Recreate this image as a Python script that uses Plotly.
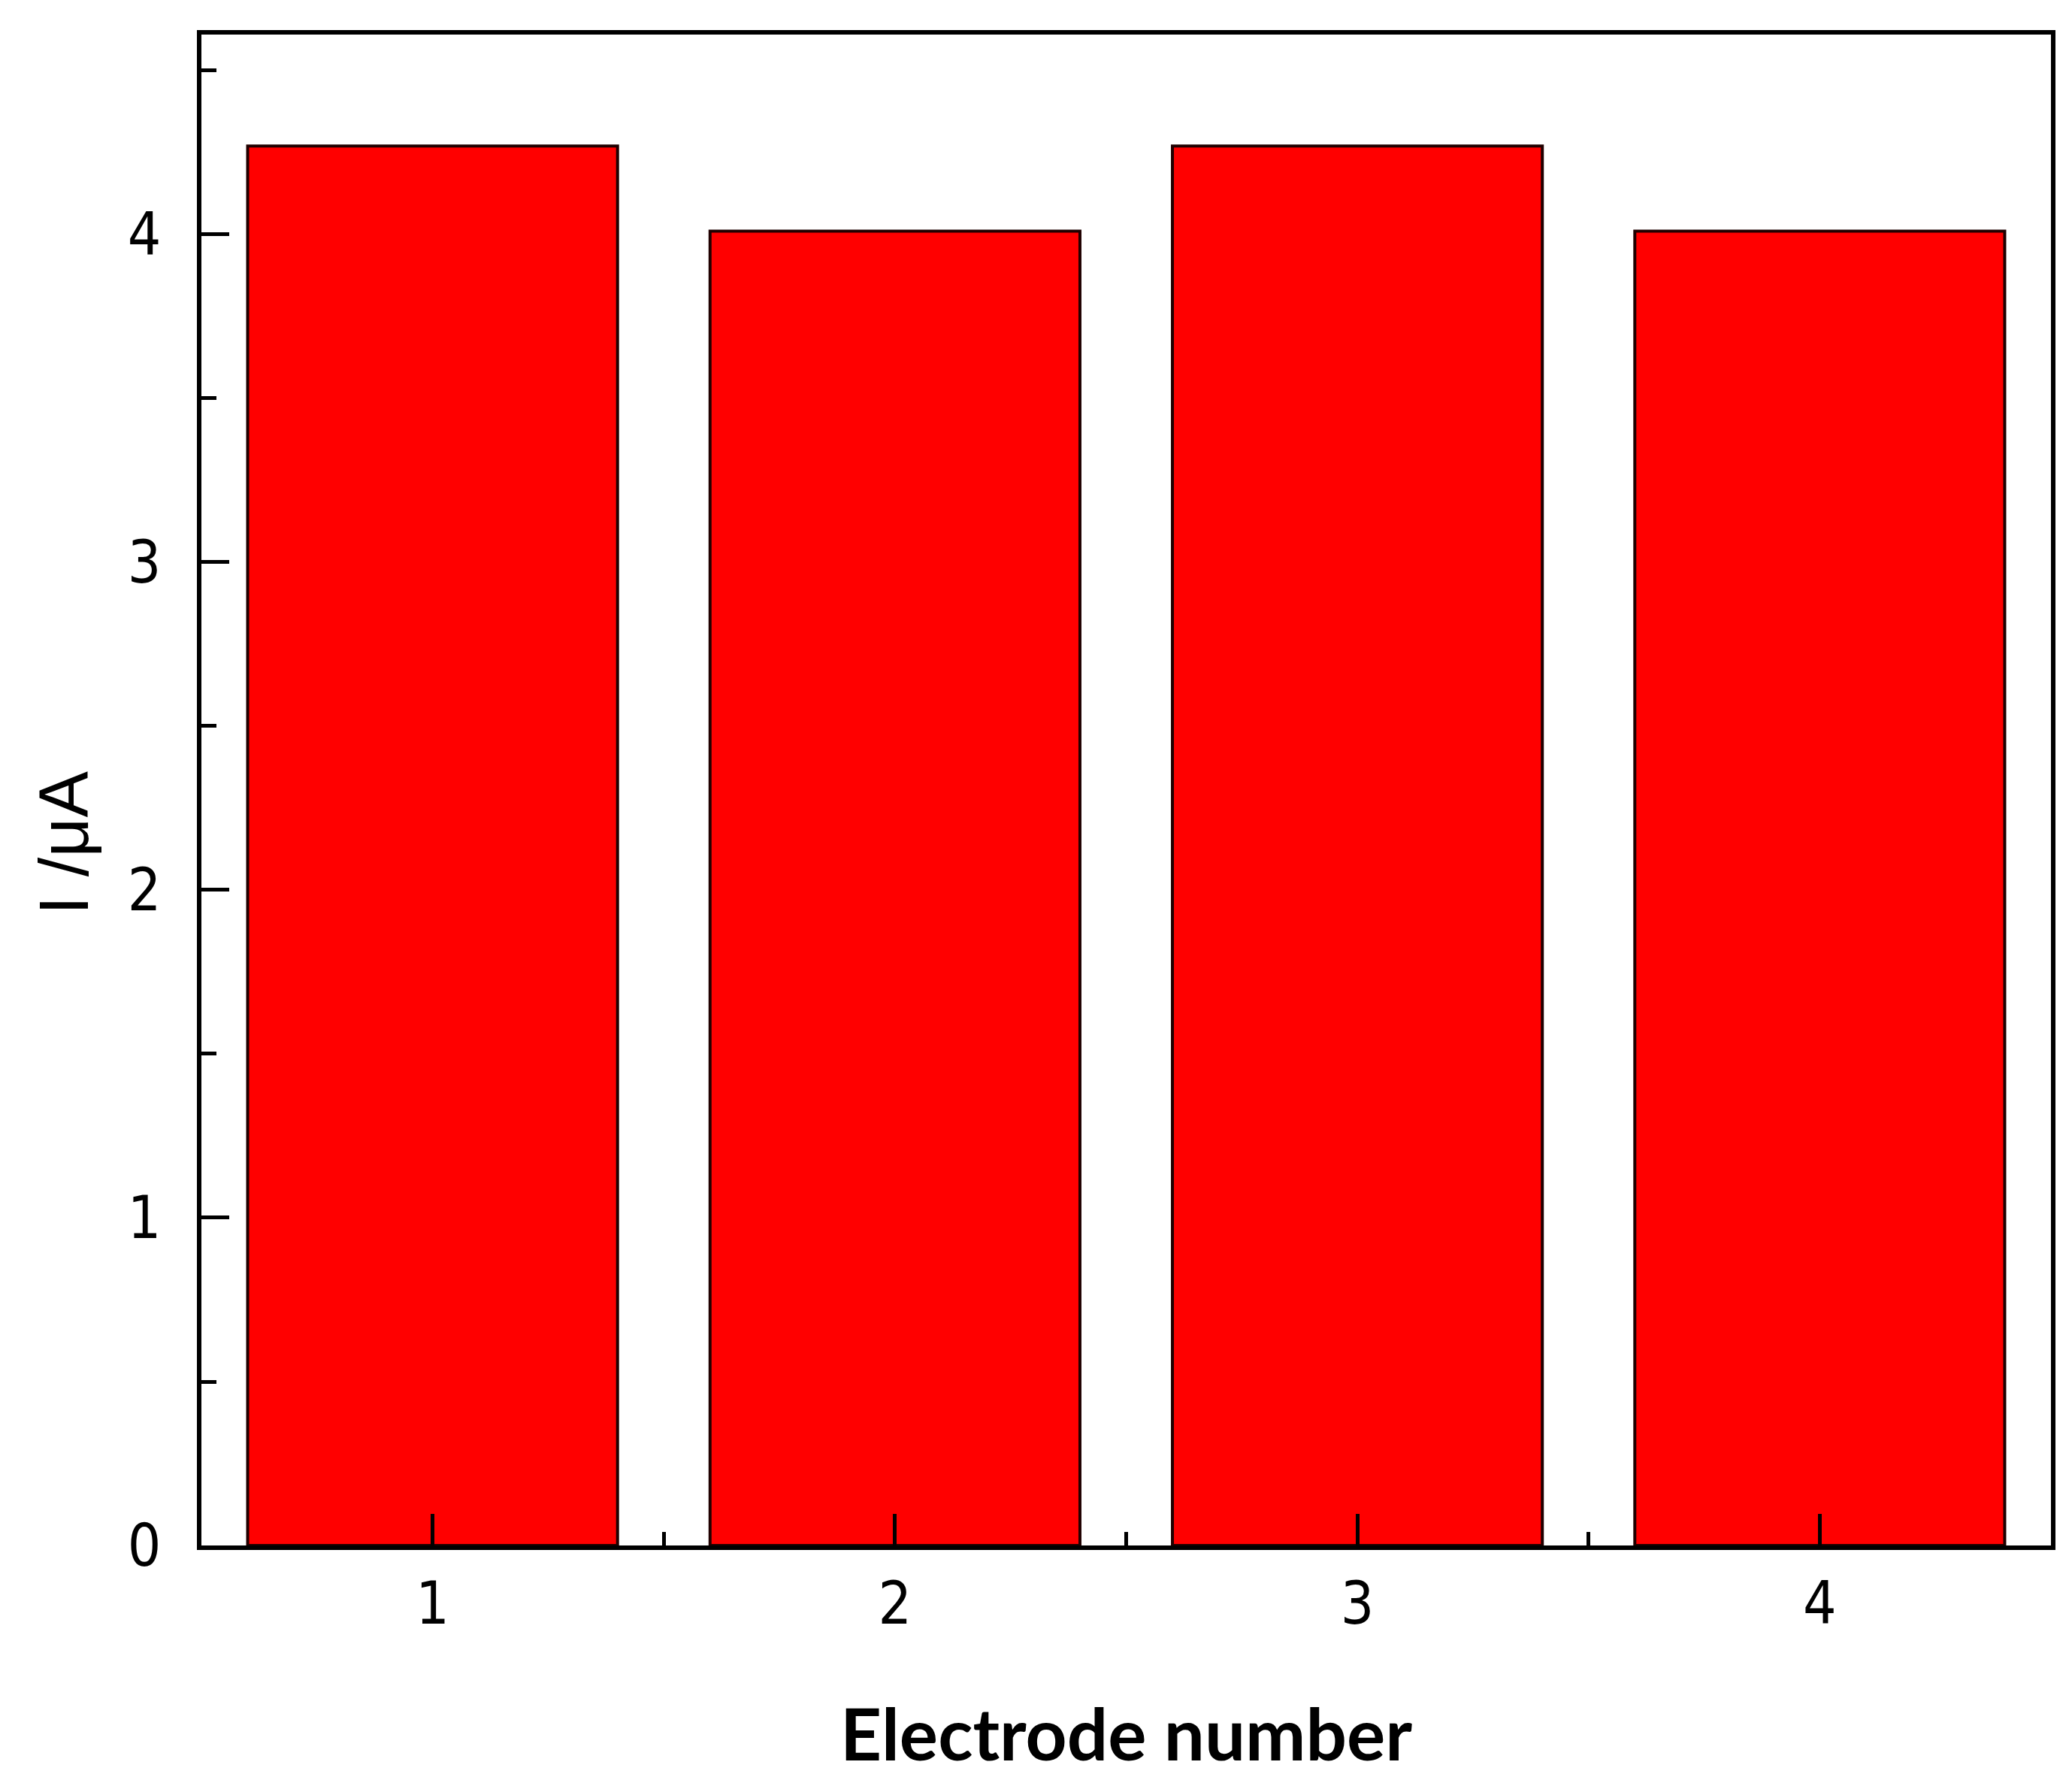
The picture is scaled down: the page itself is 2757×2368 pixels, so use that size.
import plotly.graph_objects as go

# electrode index and measured current (uA)
electrodes = [1, 2, 3, 4]
current_uA = [4.27, 4.01, 4.27, 4.01]

y_ticks = [0, 1, 2, 3, 4]
x_ticks = [1, 2, 3, 4]

tick_font = dict(family="DejaVu Sans Condensed, Liberation Sans Narrow, Liberation Sans", size=78, color="black")

fig = go.Figure()
fig.add_trace(go.Bar(
    x=electrodes,
    y=current_uA,
    width=0.8,
    marker=dict(color="#ff0000", line=dict(color="#200000", width=4)),
))

fig.update_layout(
    width=2757,
    height=2368,
    margin=dict(l=260, r=36, t=38, b=320),
    paper_bgcolor="white",
    plot_bgcolor="white",
    showlegend=False,
    xaxis=dict(
        range=[0.5, 4.5],
        tickvals=x_ticks,
        ticktext=[str(v) for v in x_ticks],
        ticks="inside",
        ticklen=42,
        tickwidth=5,
        tickcolor="black",
        minor=dict(dtick=0.5, tick0=0.5, ticks="inside", ticklen=18, tickwidth=5, tickcolor="black"),
        showline=True,
        linewidth=6,
        linecolor="black",
        mirror=True,
        showgrid=False,
        zeroline=False,
        tickfont=tick_font,
        ticklabelstandoff=4,
        title=dict(text="Electrode number",
                   font=dict(family="Lato, Open Sans", size=96, color="black", weight="bold"),
                   standoff=100),
    ),
    yaxis=dict(
        range=[0, 4.61],
        tickvals=y_ticks,
        ticks="inside",
        ticklen=37,
        tickwidth=5,
        tickcolor="black",
        minor=dict(dtick=0.5, ticks="inside", ticklen=20, tickwidth=5, tickcolor="black"),
        showline=True,
        linewidth=6,
        linecolor="black",
        mirror=True,
        showgrid=False,
        zeroline=False,
        tickfont=tick_font,
        ticklabelstandoff=32,
    ),
    annotations=[dict(
        text="I /μA",
        textangle=-90,
        xref="paper", yref="paper",
        x=-0.0744, y=0.465,
        xanchor="center", yanchor="middle",
        showarrow=False,
        font=dict(family="Liberation Sans, Arial", size=92, color="black"),
    )],
)

fig.write_html("out.html")
